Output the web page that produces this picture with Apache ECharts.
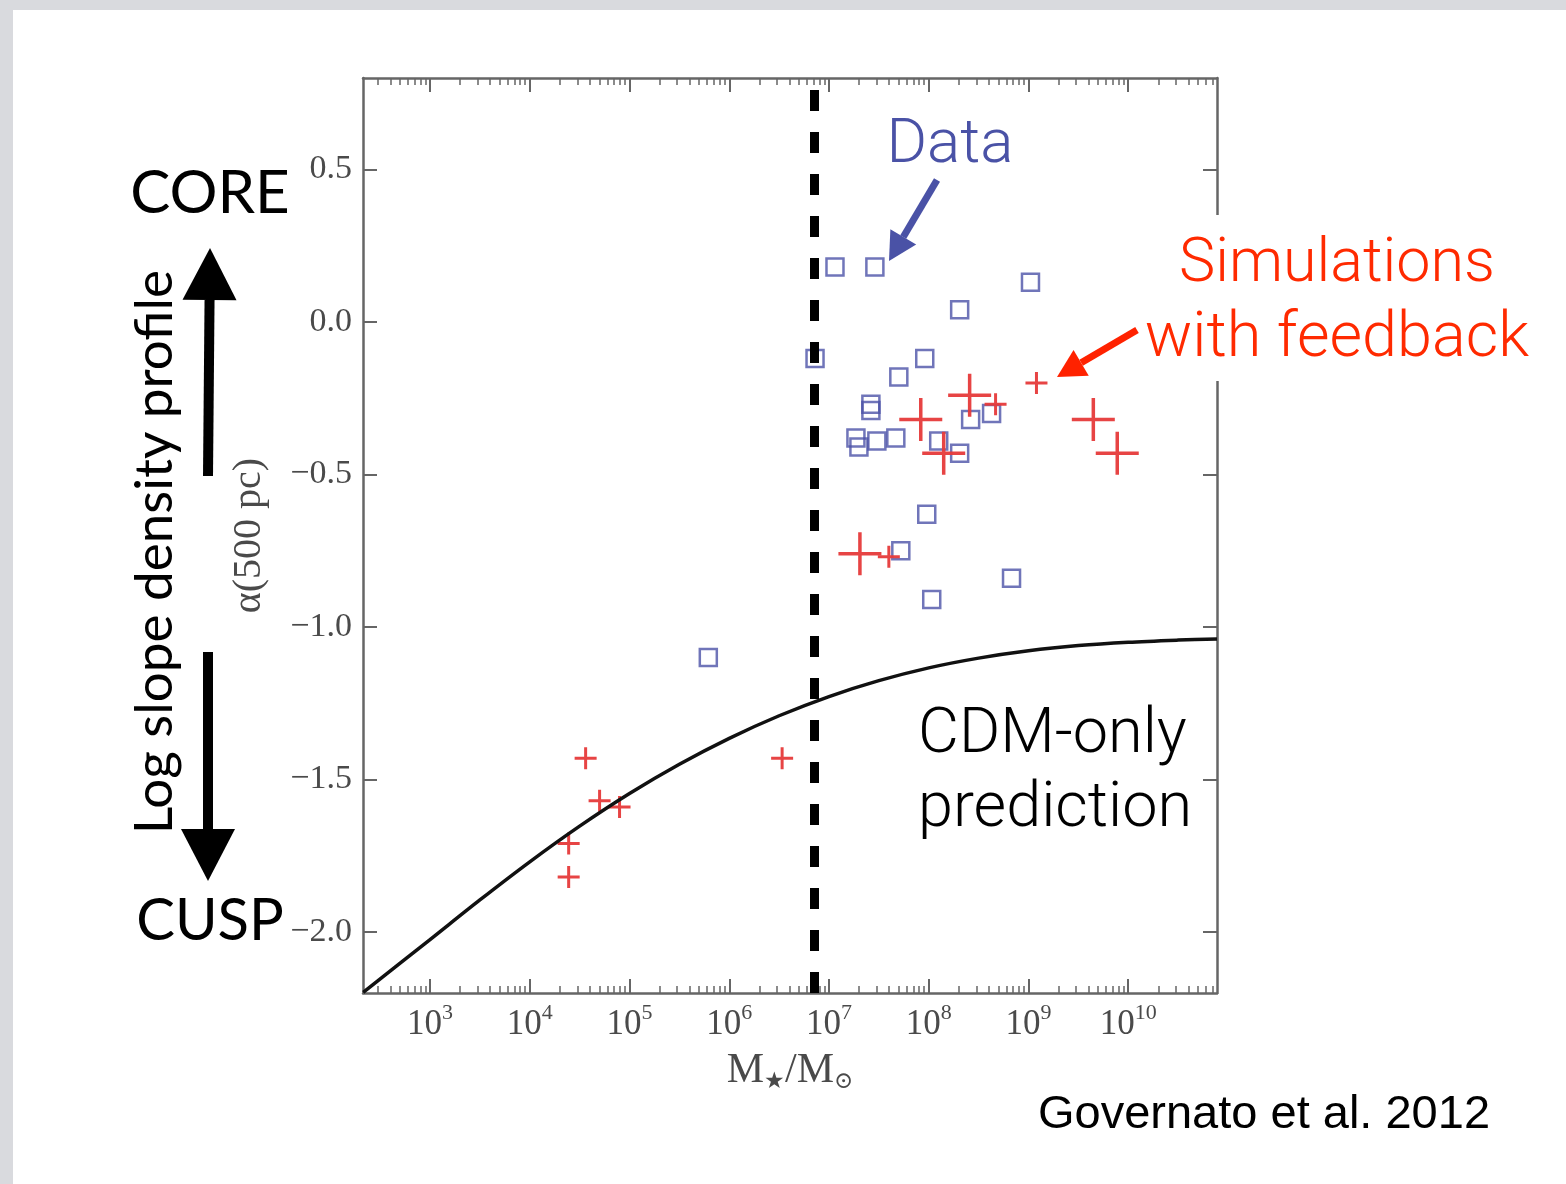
<!DOCTYPE html>
<html>
<head>
<meta charset="utf-8">
<script src="https://cdn.jsdelivr.net/npm/echarts@6/dist/echarts.min.js"></script>
<style>
html, body { margin: 0; padding: 0; background: #fff; }
#main { width: 1566px; height: 1184px; }
</style>
</head>
<body>
<div id="main"></div>
<script>
// x values are log10(M*/Msun), y values are alpha(500 pc)
var dataLogMass = [7.06, 7.46, 9.02, 8.31, 6.86, 7.96, 7.70, 7.42, 7.42, 8.42, 8.63, 7.27, 7.30, 7.48, 7.67, 8.10, 8.31, 7.98, 7.72, 8.83, 8.03, 5.79];
var dataAlpha = [0.18, 0.18, 0.13, 0.04, -0.12, -0.12, -0.18, -0.27, -0.29, -0.32, -0.30, -0.38, -0.41, -0.39, -0.38, -0.39, -0.43, -0.63, -0.75, -0.84, -0.91, -1.10];

// simulations, big crosses
var simBigLogMass = [8.41, 7.92, 8.15, 9.65, 9.89, 7.31];
var simBigAlpha = [-0.24, -0.32, -0.43, -0.32, -0.43, -0.76];
// simulations, small crosses
var simSmallLogMass = [8.67, 9.08, 7.60, 4.56, 4.70, 4.90, 4.39, 4.39, 6.53];
var simSmallAlpha = [-0.27, -0.20, -0.77, -1.43, -1.57, -1.59, -1.71, -1.82, -1.43];

// CDM-only prediction curve
var cdmLogMass = [2.33, 3, 3.5, 4, 4.5, 5, 5.5, 6, 6.5, 7, 7.5, 8, 8.5, 9, 9.5, 10, 10.5, 10.89];
var cdmAlpha = [-2.198, -2.025, -1.895, -1.770, -1.653, -1.546, -1.450, -1.365, -1.291, -1.228, -1.176, -1.134, -1.102, -1.078, -1.061, -1.050, -1.043, -1.039];

var cutoffLogMass = 6.85;

var xMin = 2.328, xMax = 10.89;
var yMin = -2.2, yMax = 0.8;
var xDecades = [3, 4, 5, 6, 7, 8, 9, 10];
var yTicks = [-2, -1.5, -1, -0.5, 0, 0.5];

// minor ticks at 2..9 x 10^n
var xMinor = [];
for (var n = 2; n <= 10; n++) {
  for (var k = 2; k <= 9; k++) {
    var v = n + Math.log10(k);
    if (v > xMin && v < xMax) xMinor.push(v);
  }
}

function zip(a, b) {
  return a.map(function (x, i) { return [x, b[i]]; });
}

var bigPlus = 'path://M-1.75,-21.5 h3.5 v19.75 h19.75 v3.5 h-19.75 v19.75 h-3.5 v-19.75 h-19.75 v-3.5 h19.75 z';
var smallPlus = 'path://M-1.5,-11 h3 v9.5 h9.5 v3 h-9.5 v9.5 h-3 v-9.5 h-9.5 v-3 h9.5 z';

var axisGray = '#666';
var labelGray = '#4a4a4a';
var serif = 'Liberation Serif';

// arrow helper for the annotations (pixel coords)
function arrow(x1, y1, x2, y2, color, w, headLen, headHalf) {
  var dx = x2 - x1, dy = y2 - y1;
  var len = Math.sqrt(dx * dx + dy * dy);
  var ux = dx / len, uy = dy / len;
  var bx = x2 - ux * headLen, by = y2 - uy * headLen;
  var nx = -uy, ny = ux;
  return [
    { type: 'line', z: 100, shape: { x1: x1, y1: y1, x2: bx, y2: by }, style: { stroke: color, lineWidth: w } },
    { type: 'polygon', z: 100, shape: { points: [[x2, y2], [bx + nx * headHalf, by + ny * headHalf], [bx - nx * headHalf, by - ny * headHalf]] }, style: { fill: color } }
  ];
}

function txt(text, x, y, size, color, family, weight, align) {
  return {
    type: 'text', z: 100, x: x, y: y,
    style: {
      text: text, fill: color, fontSize: size, fontFamily: family, fontWeight: weight || 'normal',
      align: align || 'center', textAlign: align || 'center', verticalAlign: 'middle', textVerticalAlign: 'middle'
    }
  };
}

var graphics = [
  { type: 'rect', z: -10, shape: { x: 0, y: 0, width: 1566, height: 10 }, style: { fill: '#d9dade' } },
  { type: 'rect', z: -10, shape: { x: 0, y: 0, width: 13, height: 1184 }, style: { fill: '#d9dade' } },
  // white box behind the simulations label, it hides the right frame there
  { type: 'rect', z: 90, shape: { x: 1142, y: 215, width: 424, height: 166 }, style: { fill: '#ffffff' } },
  txt('CORE', 210, 194, 60, '#000', 'Lato'),
  txt('CUSP', 210, 921, 58, '#000', 'Lato'),
  {
    type: 'text', z: 100, x: 155, y: 552, rotation: Math.PI / 2,
    style: { text: 'Log slope density profile', fill: '#000', fontSize: 53, fontFamily: 'Lato',
      align: 'center', textAlign: 'center', verticalAlign: 'middle', textVerticalAlign: 'middle' }
  },
  txt('Data', 950, 146, 62, '#4a52a6', 'Roboto', 300),
  txt('Simulations', 1337, 266, 61, '#ff2a00', 'Roboto', 300),
  txt('with feedback', 1337, 340, 63, '#ff2a00', 'Roboto', 300),
  txt('CDM-only', 918, 736, 63, '#000', 'Roboto', 300, 'left'),
  txt('prediction', 918, 810, 63, '#000', 'Roboto', 300, 'left'),
  txt('Governato et al. 2012', 1264, 1115, 47, '#000', 'Liberation Sans')
]
  .concat(arrow(208, 476, 210, 248, '#000', 10, 52, 27))
  .concat(arrow(208, 652, 208, 881, '#000', 10, 52, 27))
  .concat(arrow(937, 180, 889, 261, '#4a52a6', 7, 28, 15))
  .concat(arrow(1137, 330, 1057, 377, '#ff2200', 7, 28, 15));

var gridBox = { left: 363, top: 78, width: 854, height: 915, containLabel: false };

var option = {
  animation: false,
  backgroundColor: '#ffffff',
  grid: [Object.assign({}, gridBox), Object.assign({}, gridBox)],
  xAxis: [
    {
      gridIndex: 0, type: 'value', position: 'bottom', min: xMin, max: xMax,
      axisLine: { show: true, onZero: false, lineStyle: { color: axisGray, width: 2.5 } },
      axisTick: { show: true, inside: true, length: 14, customValues: xDecades, lineStyle: { color: axisGray, width: 2 } },
      axisLabel: {
        customValues: xDecades, margin: 9,
        formatter: function (v) { return '{b|10}{s|' + Math.round(v) + '}'; },
        rich: {
          b: { fontFamily: serif, fontSize: 35, color: labelGray },
          s: { fontFamily: serif, fontSize: 22, color: labelGray, padding: [0, 0, 24, 0] }
        }
      },
      splitLine: { show: false },
      name: '{m|M}{sub|★}{m|/M}{sub|⊙}',
      nameLocation: 'middle', nameGap: 54,
      nameTextStyle: {
        rich: {
          m: { fontFamily: serif, fontSize: 42, color: labelGray },
          sub: { fontFamily: 'DejaVu Serif', fontSize: 23, color: labelGray, padding: [24, 0, 0, 0] }
        }
      }
    },
    {
      gridIndex: 0, type: 'value', position: 'top', min: xMin, max: xMax,
      axisLine: { show: true, onZero: false, lineStyle: { color: axisGray, width: 2.5 } },
      axisTick: { show: true, inside: true, length: 14, customValues: xDecades, lineStyle: { color: axisGray, width: 2 } },
      axisLabel: { show: false },
      splitLine: { show: false }
    },
    {
      gridIndex: 1, type: 'value', position: 'bottom', min: xMin, max: xMax,
      axisLine: { show: false, onZero: false },
      axisTick: { show: true, inside: true, length: 7, customValues: xMinor, lineStyle: { color: axisGray, width: 1.5 } },
      axisLabel: { show: false },
      splitLine: { show: false }
    },
    {
      gridIndex: 1, type: 'value', position: 'top', min: xMin, max: xMax,
      axisLine: { show: false, onZero: false },
      axisTick: { show: true, inside: true, length: 7, customValues: xMinor, lineStyle: { color: axisGray, width: 1.5 } },
      axisLabel: { show: false },
      splitLine: { show: false }
    }
  ],
  yAxis: [
    {
      gridIndex: 0, type: 'value', position: 'left', min: yMin, max: yMax,
      axisLine: { show: true, onZero: false, lineStyle: { color: axisGray, width: 2.5 } },
      axisTick: { show: true, inside: true, length: 14, customValues: yTicks, lineStyle: { color: axisGray, width: 2 } },
      axisLabel: {
        customValues: yTicks, margin: 11, fontFamily: serif, fontSize: 34, color: labelGray,
        formatter: function (v) { return (v < 0 ? '\u2212' : '') + Math.abs(v).toFixed(1); }
      },
      splitLine: { show: false },
      name: 'α(500 pc)', nameLocation: 'middle', nameGap: 94,
      nameTextStyle: { fontFamily: serif, fontSize: 40, color: labelGray }
    },
    {
      gridIndex: 0, type: 'value', position: 'right', min: yMin, max: yMax,
      axisLine: { show: true, onZero: false, lineStyle: { color: axisGray, width: 2.5 } },
      axisTick: { show: true, inside: true, length: 14, customValues: yTicks, lineStyle: { color: axisGray, width: 2 } },
      axisLabel: { show: false },
      splitLine: { show: false }
    },
    { gridIndex: 1, type: 'value', show: false, min: yMin, max: yMax }
  ],
  series: [
    {
      name: 'Data', type: 'scatter', xAxisIndex: 0, yAxisIndex: 0,
      data: zip(dataLogMass, dataAlpha),
      symbol: 'rect', symbolSize: 17,
      itemStyle: { color: 'rgba(255,255,255,0)', borderColor: '#4c52a8', borderWidth: 2.5 }
    },
    {
      name: 'Sim big', type: 'scatter', xAxisIndex: 0, yAxisIndex: 0,
      data: zip(simBigLogMass, simBigAlpha),
      symbol: bigPlus, symbolSize: 43,
      itemStyle: { color: '#e63a3a', opacity: 0.95 }
    },
    {
      name: 'Sim small', type: 'scatter', xAxisIndex: 0, yAxisIndex: 0,
      data: zip(simSmallLogMass, simSmallAlpha),
      symbol: smallPlus, symbolSize: 22,
      itemStyle: { color: '#e63a3a', opacity: 0.95 }
    },
    {
      name: 'CDM-only', type: 'line', xAxisIndex: 0, yAxisIndex: 0,
      data: zip(cdmLogMass, cdmAlpha),
      smooth: 0.3, showSymbol: false, symbol: 'none',
      lineStyle: { color: '#111', width: 3.5 },
      markLine: {
        silent: true, symbol: ['none', 'none'],
        label: { show: false },
        lineStyle: { color: '#000', width: 9, type: [21, 21] },
        data: [{ xAxis: cutoffLogMass }]
      }
    }
  ],
  graphic: graphics
};

var chart = echarts.init(document.getElementById('main'));
chart.setOption(option);
</script>
</body>
</html>
